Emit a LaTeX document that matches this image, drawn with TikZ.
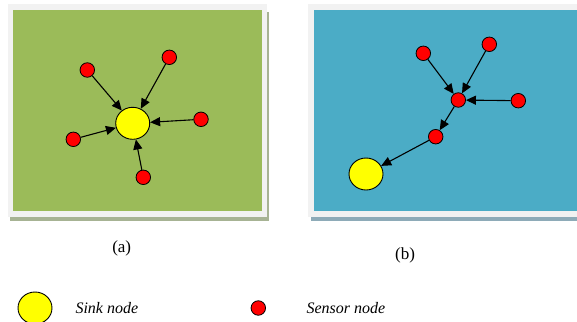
\documentclass[tikz,border=0pt]{standalone}
\usepackage{fontspec}
\setmainfont{Liberation Serif}
\usetikzlibrary{arrows.meta,shapes.geometric}
\definecolor{pgreen}{HTML}{9BBB59}
\definecolor{pblue}{HTML}{4BACC6}
\definecolor{framec}{HTML}{F2F2F2}
\definecolor{shadg}{HTML}{A7B394}
\definecolor{shadb}{HTML}{8EABB8}
\definecolor{sinkc}{HTML}{FFFF00}
\definecolor{sensc}{HTML}{FF0000}
\tikzset{
  sink/.style={ellipse,draw=black,line width=0.9pt,fill=sinkc,minimum width=34pt,minimum height=32pt,inner sep=0pt},
  sensor/.style={circle,draw=black,line width=0.8pt,fill=sensc,minimum size=14.5pt,inner sep=0pt},
  flow/.style={-{Triangle[length=10pt,width=9pt]},line width=1.1pt,black},
  captext/.style={font=\fontsize{17}{20}\selectfont},
  leg/.style={font=\fontsize{16}{19}\selectfont\itshape,anchor=west}
}
\begin{document}
\begin{tikzpicture}[x=1pt,y=-1pt]
\useasboundingbox (0,0) rectangle (577,321);
% panel (a)
\fill[shadg] (10,12) rectangle (269,221);
\fill[framec] (8,4) rectangle (266.5,217);
\fill[pgreen] (13,10) rectangle (262,211);
% panel (b)
\fill[shadb] (311,12) rectangle (577,221);
\fill[framec] (308,4) rectangle (577,217);
\fill[pblue] (314,10) rectangle (577,211);

% nodes (a)
\node[sink] (sa) at (132.7,123.3) {};
\node[sensor] (a1) at (87.3,70) {};
\node[sensor] (a2) at (169.3,57.3) {};
\node[sensor] (a3) at (201,119.3) {};
\node[sensor] (a4) at (73.3,139.3) {};
\node[sensor] (a5) at (143.3,177.3) {};
\foreach \n in {a1,a2,a3,a4,a5} \draw[flow] (\n) -- (sa);

% nodes (b)
\node[sink] (sb) at (366,174) {};
\node[sensor] (b1) at (423.3,53.3) {};
\node[sensor] (b2) at (489.3,44.3) {};
\node[sensor] (b3) at (518.3,100.7) {};
\node[sensor] (bm) at (458.3,100) {};
\node[sensor] (bl) at (435.7,136.7) {};
\draw[flow] (b1) -- (bm);
\draw[flow] (b2) -- (bm);
\draw[flow] (b3) -- (bm);
\draw[flow] (bm) -- (bl);
\draw[flow] (bl) -- (sb);

% captions
\node[captext] (ca) at (121.7,248) {(a)};
\node[captext] (cb) at (405,255) {(b)};

% legend
\node[sink] (ls) at (35,308) {};
\node[leg] (lst) at (72,308) {Sink node};
\node[sensor] (lr) at (258.3,308) {};
\node[leg] (lrt) at (303,308) {Sensor node};
\end{tikzpicture}
\end{document}
